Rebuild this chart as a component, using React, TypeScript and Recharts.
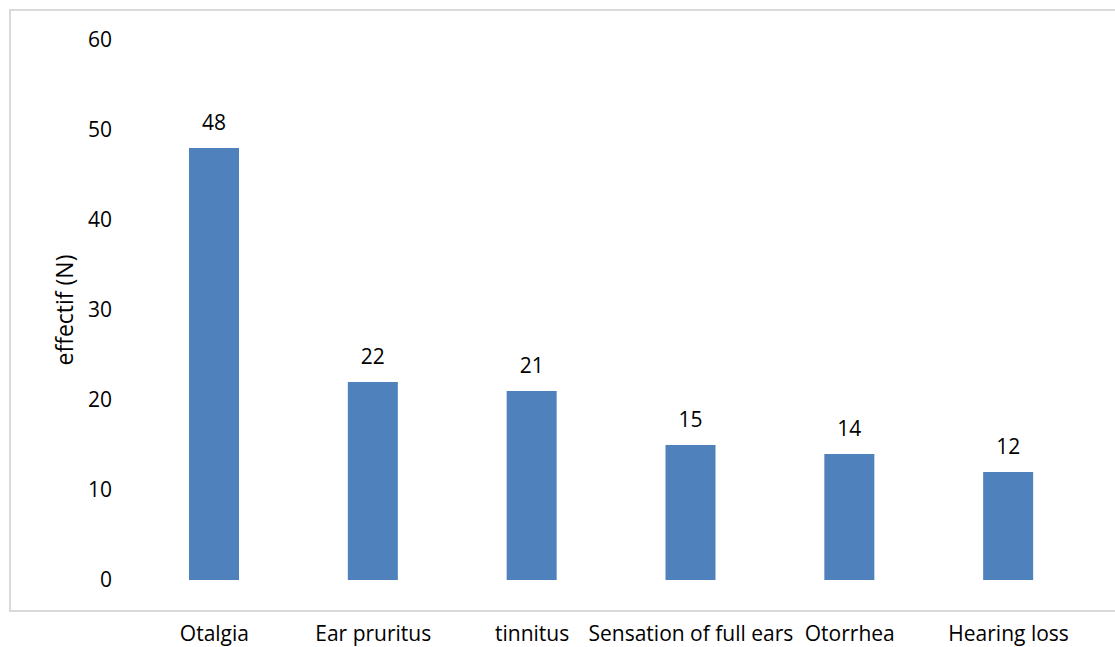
import React from "react";
import { BarChart, Bar, XAxis, YAxis, LabelList, Label } from "recharts";

const categories = ["Otalgia", "Ear pruritus", "tinnitus", "Sensation of full ears", "Otorrhea", "Hearing loss"];
const counts = [48, 22, 21, 15, 14, 12];
const yTicks = [0, 10, 20, 30, 40, 50, 60];
const yTitle = "effectif (N)";

const data = categories.map((name, i) => ({ name, value: counts[i] }));

const FONT = "'Open Sans', sans-serif";

const YTitle = (props: any) => {
  const vb = props.viewBox || {};
  const cx = vb.x + vb.width / 2 - 41;
  const cy = vb.y + vb.height / 2;
  return (
    <text
      x={cx}
      y={cy}
      transform={`rotate(-90, ${cx}, ${cy})`}
      textAnchor="middle"
      dominantBaseline="central"
      fill="#000"
      fontSize={23}
      fontFamily={FONT}
    >
      {yTitle}
    </text>
  );
};

export default function App() {
  return (
    <div style={{ position: "absolute", left: 0, top: 0, width: 1115, height: 647, overflow: "hidden", background: "#fff" }}>
      <div
        style={{
          position: "absolute",
          left: 9,
          top: 9,
          width: 1130,
          height: 603,
          border: "2px solid #d9d9d9",
          boxSizing: "border-box",
        }}
      />
      <div style={{ position: "absolute", left: 0, top: 0 }}>
        <BarChart
          width={1115}
          height={647}
          data={data}
          margin={{ top: 40, right: 27, bottom: 37, left: 75 }}
          style={{ fontFamily: FONT }}
        >
          <XAxis
            dataKey="name"
            axisLine={false}
            tickLine={false}
            tickSize={0}
            tickMargin={46}
            interval={0}
            tick={{ fill: "#000", fontSize: 21, fontFamily: FONT }}
          />
          <YAxis
            width={60}
            domain={[0, 60]}
            ticks={yTicks}
            axisLine={false}
            tickLine={false}
            tickSize={0}
            tickMargin={23}
            tick={{ fill: "#000", fontSize: 21, fontFamily: FONT }}
          >
            <Label content={<YTitle />} />
          </YAxis>
          <Bar dataKey="value" fill="#4f81bd" barSize={50} isAnimationActive={false}>
            <LabelList
              dataKey="value"
              position="top"
              offset={18}
              fill="#000"
              fontSize={21}
              fontFamily={FONT}
            />
          </Bar>
        </BarChart>
      </div>
    </div>
  );
}
